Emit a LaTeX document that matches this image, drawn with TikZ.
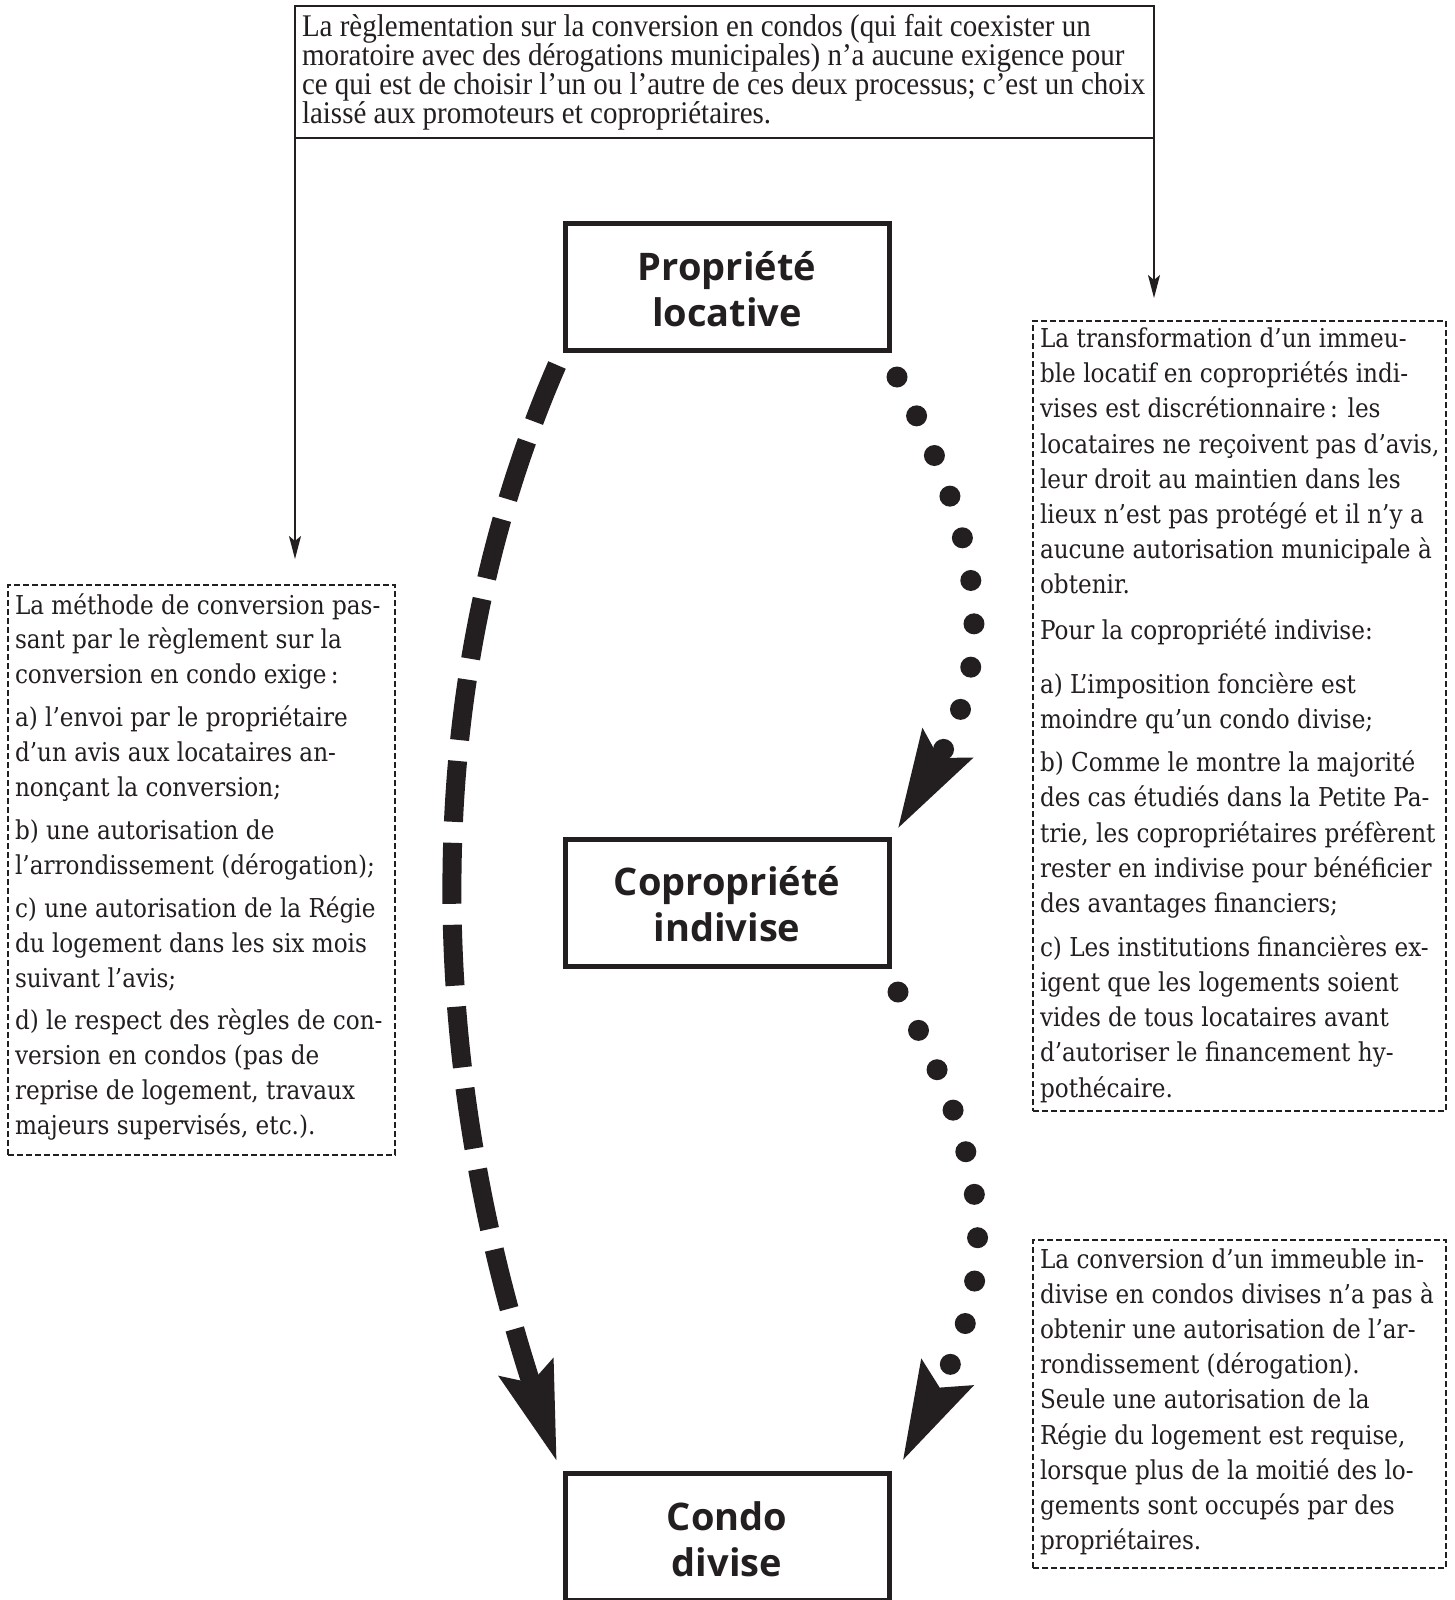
\documentclass[tikz,border=0pt]{standalone}
\usepackage{fontspec}
\usetikzlibrary{arrows.meta,calc}
\setmainfont{Liberation Serif}
\newfontfamily\topfont[FakeStretch=0.92]{Liberation Serif}
\newfontfamily\sidefont[FakeStretch=0.89]{DejaVu Serif}
\newfontfamily\titlefont{Open Sans}
\definecolor{ink}{RGB}{35,31,32}
\newcommand\ligne[1]{\hbox to \hsize{#1\hss}}
\newcommand\pgap[1]{\vskip#1pt\relax}
\newcommand\txtbox[3]{\vbox to #2pt{\hsize=#1pt\relax\lineskiplimit=-100pt\relax #3\vss}}
\newcommand\ttl[2]{\begin{tabular}{@{}c@{}}\rule{0pt}{46.4pt}#1\\#2\end{tabular}}
\begin{document}
\begin{tikzpicture}[x=1pt,y=-1pt,
  topbox/.style={draw=ink, line width=1.6pt, inner xsep=7pt, inner ysep=0pt, outer sep=0pt, anchor=north west, text=ink},
  sidebox/.style={draw=ink, line width=2pt, dash pattern=on 6pt off 3pt, inner xsep=7pt, inner ysep=0pt, outer sep=0pt, anchor=north west, text=ink},
  bigbox/.style={draw=ink, line width=5pt, minimum width=324pt, minimum height=127pt, inner sep=0pt, outer sep=0pt, text=ink, font=\titlefont\bfseries\fontsize{38}{46}\selectfont},
  conn/.style={draw=ink, line width=1.6pt, -{Stealth[length=23pt,width=12pt,inset=5pt]}},
  bigdash/.style={draw=ink, line width=19pt, dash pattern=on 61pt off 21pt, -{Stealth[length=97pt,width=54pt,inset=14pt]}},
  dotarrow/.style={draw=ink, line width=21pt, line cap=round, dash pattern=on 0pt off 43.5pt, -{Stealth[length=97pt,width=54pt,inset=14pt]}}
]
\useasboundingbox (0,0) rectangle (1455,1600);
\fill[white] (0,0) rectangle (1455,1600);
\begin{scope}
\clip (0,0) rectangle (1455,1600);

% top explanatory box
\node[topbox] (top) at (295,6) {\txtbox{845}{132}{\topfont\fontsize{31.5}{29}\selectfont
\ligne{\rule{0pt}{31pt}La règlementation sur la conversion en condos (qui fait coexister un}
\ligne{moratoire avec des dérogations municipales) n’a aucune exigence pour}
\ligne{ce qui est de choisir l’un ou l’autre de ces deux processus; c’est un choix}
\ligne{laissé aux promoteurs et copropriétaires.}}};

\coordinate (la) at (295,559);
\coordinate (ra) at (1154,298);
\draw[conn] (top.south west) -- (la);
\draw[conn] (top.south east) -- (ra);

% main boxes
\node[bigbox] (b1) at (727,287) {\ttl{Propriété}{locative}};
\node[bigbox] (b2) at (727,902.5) {\ttl{Copropriété}{indivise}};
\node[bigbox] (b3) at (727,1537) {\ttl{Condo}{divise}};

% left box
\node[sidebox] (lbox) at (8,585) {\txtbox{373}{570}{\sidefont\fontsize{26}{34.9}\selectfont
\ligne{\rule{0pt}{29pt}La méthode de conversion pas-}
\ligne{sant par le règlement sur la}
\ligne{conversion en condo exige\,:}
\pgap{8}
\ligne{a) l’envoi par le propriétaire}
\ligne{d’un avis aux locataires an-}
\ligne{nonçant la conversion;}
\pgap{8}
\ligne{b) une autorisation de}
\ligne{l’arrondissement (dérogation);}
\pgap{8}
\ligne{c) une autorisation de la Régie}
\ligne{du logement dans les six mois}
\ligne{suivant l’avis;}
\pgap{8}
\ligne{d) le respect des règles de con-}
\ligne{version en condos (pas de}
\ligne{reprise de logement, travaux}
\ligne{majeurs supervisés, etc.).}}};

% right top box
\node[sidebox] (rbox) at (1033,321) {\txtbox{399}{790}{\sidefont\fontsize{26}{35.2}\selectfont
\ligne{\rule{0pt}{26.5pt}La transformation d’un immeu-}
\ligne{ble locatif en copropriétés indi-}
\ligne{vises est discrétionnaire\,: les}
\ligne{locataires ne reçoivent pas d’avis,}
\ligne{leur droit au maintien dans les}
\ligne{lieux n’est pas protégé et il n’y a}
\ligne{aucune autorisation municipale à}
\ligne{obtenir.}
\pgap{10.6}
\ligne{Pour la copropriété indivise:}
\pgap{18.8}
\ligne{a) L’imposition foncière est}
\ligne{moindre qu’un condo divise;}
\pgap{7.6}
\ligne{b) Comme le montre la majorité}
\ligne{des cas étudiés dans la Petite Pa-}
\ligne{trie, les copropriétaires préfèrent}
\ligne{rester en indivise pour bénéficier}
\ligne{des avantages financiers;}
\pgap{8.6}
\ligne{c) Les institutions financières ex-}
\ligne{igent que les logements soient}
\ligne{vides de tous locataires avant}
\ligne{d’autoriser le financement hy-}
\ligne{pothécaire.}}};

% right bottom box
\node[sidebox] (rbbox) at (1033,1240) {\txtbox{399}{328}{\sidefont\fontsize{26}{35.2}\selectfont
\ligne{\rule{0pt}{28pt}La conversion d’un immeuble in-}
\ligne{divise en condos divises n’a pas à}
\ligne{obtenir une autorisation de l’ar-}
\ligne{rondissement (dérogation).}
\ligne{Seule une autorisation de la}
\ligne{Régie du logement est requise,}
\ligne{lorsque plus de la moitié des lo-}
\ligne{gements sont occupés par des}
\ligne{propriétaires.}}};

% big arrows
\draw[bigdash] ($(b1.south west)+(-8,14.5)$) .. controls +(-156,359) and +(-116,-355) .. ($(b3.north west)+(-8,-11.5)$);
\draw[dotarrow] ($(b1.south east)+(8,26.5)$) .. controls +(91,172) and +(98,-168) .. ($(b2.north east)+(8,-9)$);
\draw[dotarrow] ($(b2.south east)+(9,26)$) .. controls +(111,197) and +(84,-166) .. ($(b3.north east)+(13,-11.5)$);
\end{scope}
\end{tikzpicture}
\end{document}
